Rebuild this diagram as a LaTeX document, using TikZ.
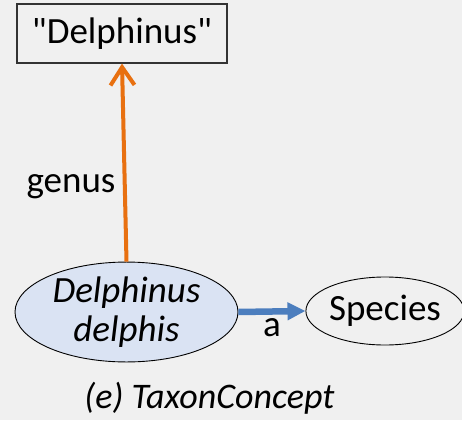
\documentclass[tikz,border=0pt]{standalone}
\usepackage{fontspec}
\setmainfont{Carlito}[Ligatures=TeXOff]
\usetikzlibrary{shapes.geometric,arrows.meta}
\definecolor{bgc}{RGB}{240,240,240}
\definecolor{ellfill}{RGB}{218,227,243}
\definecolor{orangec}{RGB}{232,112,16}
\definecolor{bluec}{RGB}{76,126,190}
\begin{document}
\begin{tikzpicture}[x=1pt,y=-1pt,
  lbl/.style={font=\fontsize{37}{40}\selectfont, inner sep=0pt},
  litbox/.style={draw=black!80, line width=1.2pt, minimum width=210pt, minimum height=59pt, inner sep=0pt, font=\fontsize{37}{40}\selectfont},
  ellnode/.style={ellipse, draw=black, line width=0.9pt, inner sep=0pt, font=\fontsize{37}{40}\selectfont}]
\fill[bgc] (0,0) rectangle (462,420);
\useasboundingbox (0,0) rectangle (462,420);
\node[litbox] (box) at (122,33.5) {"Delphinus"};
\node[ellnode, fill=ellfill, minimum width=223pt, minimum height=92pt, align=center,
  font=\fontsize{37}{40}\selectfont\itshape] (ell) at (126.5,312) {Delphinus\\[-1pt]delphis};
\node[ellnode, minimum width=156pt, minimum height=68pt] (sp) at (385,311) {Species};
\draw[orangec, line width=4pt, -{Straight Barb[length=18pt, width=24pt, line width=4pt]}] (ell.north) -- (box.south);
\draw[bluec, line width=6.5pt, -{Triangle[length=18pt, width=17pt]}] (ell.east) -- (sp.west);
\node[lbl] (genus) at (71,187) {genus};
\node[lbl] (a) at (272,328) {a};
\node[lbl, font=\fontsize{36}{40}\selectfont\itshape] (cap) at (209.5,398) {(e) TaxonConcept};
\end{tikzpicture}
\end{document}
